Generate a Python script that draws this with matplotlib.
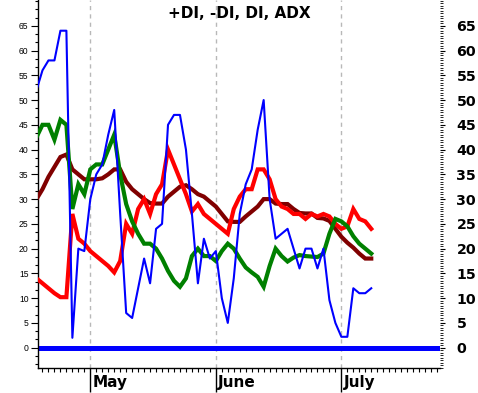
import matplotlib
matplotlib.use("Agg")
import matplotlib.pyplot as plt
from matplotlib.ticker import FixedLocator
from matplotlib.transforms import blended_transform_factory

plt.rcParams['font.family'] = ['Liberation Sans', 'DejaVu Sans']

# ---- data (trading-day index 0..56) ----
day_index = list(range(57))

di_blue = [52, 56, 58, 58, 64, 64, 2, 20, 19.5, 30,
           35, 37, 43, 48, 27, 7, 6, 12, 18, 13,
           24, 25, 45, 47, 47, 40, 27, 13, 22, 18,
           19.5, 10, 5, 14, 27, 33, 36, 44, 50, 30,
           22, 23, 24, 20, 16, 20, 20, 16, 20, 9.6,
           5, 2.2, 2.2, 12, 11, 11, 12]

plus_di_green = [42.5, 45, 45, 42, 46, 45, 28, 33, 31, 36,
                 37, 37, 40, 43, 35, 29, 25.5, 23, 21, 21,
                 20, 18, 15.5, 13.5, 12.3, 14, 18.5, 20, 18.5, 18.5,
                 17.5, 19.5, 21, 20, 18, 16.2, 15.2, 14.3, 12.3, 16.5,
                 20, 18.5, 17.4, 18.2, 18.7, 18.5, 18.4, 18.3, 19, 23,
                 26, 25.5, 24.5, 22.5, 21, 20, 19]

minus_di_red = [14, 13, 12, 11, 10.2, 10.2, 27, 22, 21, 19.5,
                18.5, 17.5, 16.5, 15.2, 17.5, 25, 23, 28, 30, 27,
                31, 33, 40, 37, 34, 31, 27.5, 29, 27, 26,
                25, 24, 23, 28, 30.5, 32, 32, 36, 36, 34,
                30, 28.5, 28, 27, 27, 26, 27, 26.5, 27, 26.5,
                25, 24, 24.5, 28, 26, 25.5, 24]

adx_maroon = [30, 32, 34.5, 36.5, 38.5, 39, 36, 35, 34, 34,
              34, 34.2, 35, 36, 36, 33.5, 32, 31, 30, 29.2,
              29.1, 29.1, 30.5, 31.5, 32.5, 32.8, 32, 31, 30.5, 29.5,
              28.5, 27, 25.5, 25.4, 25.4, 26.5, 27.5, 28.5, 30, 30,
              29.1, 29, 29, 28, 27.2, 27.1, 27.1, 26.2, 26.1, 25.6,
              24, 22.4, 21.2, 20.2, 19, 18, 18]

month_labels = ["May", "June", "July"]
month_index = [9, 30, 51]
y_tick_values = list(range(0, 70, 5))
title_text = "+DI, -DI, DI, ADX"

BOLD = ['DejaVu Sans']

# ---- figure ----
W, H = 478, 393
fig = plt.figure(figsize=(W / 100, H / 100), dpi=100)
ax = fig.add_axes([38 / W, (H - 368) / H, (440 - 38) / W, 368 / H])

ax.set_xlim(0.25, 67.5)
ax.set_ylim(-4.1, 70.2)

for m in month_index:
    ax.axvline(m, color='#b8b8b8', lw=1.0, ls=(0, (3, 3)), zorder=1)

ax.axhline(0, color='#0000ff', lw=3.6, zorder=2)

ax.plot(day_index, adx_maroon, color='#800000', lw=3.0, zorder=3, solid_joinstyle='miter')
ax.plot(day_index, minus_di_red, color='#ff0000', lw=3.0, zorder=4, solid_joinstyle='miter')
ax.plot(day_index, plus_di_green, color='#008000', lw=3.0, zorder=5, solid_joinstyle='miter')
ax.plot(day_index, di_blue, color='#0000ff', lw=1.5, zorder=6)

# spines
for s in ['top', 'right']:
    ax.spines[s].set_visible(False)
ax.spines['left'].set_linewidth(1.0)
ax.spines['bottom'].set_linewidth(1.0)

# x ticks
ax.xaxis.set_major_locator(FixedLocator(month_index))
ax.xaxis.set_minor_locator(FixedLocator([i for i in range(1, 68) if i not in month_index]))
ax.tick_params(axis='x', which='major', length=17, width=1.0, direction='out', labelbottom=False)
ax.tick_params(axis='x', which='minor', length=3.2, width=0.8, direction='out')
trans = blended_transform_factory(ax.transData, ax.transAxes)
for lab, m in zip(month_labels, month_index):
    ax.text(m + 0.35, -0.020, lab, transform=trans, ha='left', va='top',
            fontsize=11, fontweight='bold', family=BOLD)

# left y ticks
ax.yaxis.set_major_locator(FixedLocator(y_tick_values))
ax.set_yticklabels([str(v) for v in y_tick_values])
minor_left = [v / 3 * 5 for v in range(-6, 43) if v % 3 != 0]
ax.yaxis.set_minor_locator(FixedLocator(minor_left + [70]))
ax.tick_params(axis='y', which='major', length=4.8, width=0.8, labelsize=6.2, pad=2)
ax.tick_params(axis='y', which='minor', length=2.4, width=0.8)

# right y ticks
ax2 = ax.twinx()
ax2.set_ylim(ax.get_ylim())
for s in ['top', 'right', 'left', 'bottom']:
    ax2.spines[s].set_visible(False)
ax2.yaxis.set_major_locator(FixedLocator(y_tick_values))
ax2.set_yticklabels([str(v) for v in y_tick_values], fontweight='bold', family=BOLD)
ax2.yaxis.set_minor_locator(FixedLocator([v * 0.5 for v in range(-8, 141) if v % 10 != 0] + [70]))
ax2.tick_params(axis='y', which='major', length=3.8, width=0.8, labelsize=10.2, pad=8)
ax2.tick_params(axis='y', which='minor', length=2.0, width=0.6)

ax.text(0.5, 0.963, title_text, transform=ax.transAxes, ha='center', va='center',
        fontsize=11, fontweight='bold', family=BOLD)

fig.savefig("out.png", dpi=100)
